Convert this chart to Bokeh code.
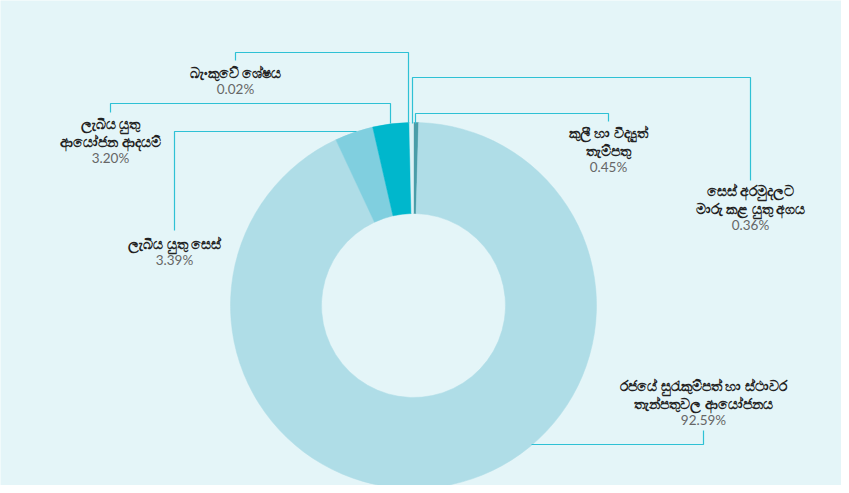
import math
from bokeh.plotting import figure
from bokeh.models import Range1d, ColumnDataSource
from bokeh.core.properties import value
from bokeh.embed import file_html
from bokeh.resources import INLINE

# ---- data (clockwise from 12 o'clock) ----
categories = [
    "කුලී හා විද්‍යුත් තැම්පතු",
    "රජයේ සුරැකුම්පත් හා ස්ථාවර තැන්පතුවල ආයෝජනය",
    "ලැබිය යුතු සෙස්",
    "ලැබිය යුතු ආයෝජන ආදයම්",
    "බැංකුවේ ශේෂය",
    "සෙස් අරමුදලට මාරු කළ යුතු අගය",
]
shares = [0.45, 92.59, 3.39, 3.20, 0.02, 0.36]
pct_labels = ["0.45%", "92.59%", "3.39%", "3.20%", "0.02%", "0.36%"]
label_lines = [
    ["කුලී හා විද්‍යුත්", "තැම්පතු"],
    ["රජයේ සුරැකුම්පත් හා ස්ථාවර", "තැන්පතුවල ආයෝජනය"],
    ["ලැබිය යුතු සෙස්"],
    ["ලැබිය යුතු", "ආයෝජන ආදයම්"],
    ["බැංකුවේ ශේෂය"],
    ["සෙස් අරමුදලට", "මාරු කළ යුතු අගය"],
]

# ---- styling / layout ----
colors = ["#4a9da8", "#afdde7", "#80cfdf", "#00b7cc", "#00b7cc", "#dcf1f5"]
BG = "#e4f5f8"
LEAD = "#2ec1d5"
CX, CY = 413, 305
R_OUT, R_IN = 183, 92

# label anchor (x, y of first line) per slice
label_pos = [(608, 132), (703, 385), (174, 243), (110, 123), (235, 72), (750, 190)]
# leader polylines per slice
leaders = [
    ([415, 415, 608, 608], [123, 113, 113, 121]),
    ([531, 703, 703], [444, 444, 430]),
    ([356, 174, 174], [131, 131, 230]),
    ([390, 390, 110, 110], [123, 103, 103, 112]),
    ([408, 408, 235, 235], [123, 52, 52, 60]),
    ([412, 412, 750, 750], [123, 77, 77, 180]),
]

W, H = 841, 485
p = figure(width=W, height=H, output_backend="svg", toolbar_location=None,
           x_range=Range1d(0, W), y_range=Range1d(H, 0),
           min_border=0, background_fill_color=BG, border_fill_color=BG,
           outline_line_color=None)
p.axis.visible = False
p.grid.visible = False

total = sum(shares)
starts, ends = [], []
cum = 0.0
for s in shares:
    a0 = math.pi / 2 - 2 * math.pi * cum / total
    cum += s
    a1 = math.pi / 2 - 2 * math.pi * cum / total
    starts.append(a0)
    ends.append(a1)

src = ColumnDataSource(dict(start=starts, end=ends, color=colors,
                            x=[CX] * len(shares), y=[CY] * len(shares)))
p.annular_wedge(x="x", y="y", inner_radius=R_IN, outer_radius=R_OUT,
                start_angle="start", end_angle="end", direction="clock",
                fill_color="color", line_color="color", line_width=0.5,
                source=src)

for xs, ys in leaders:
    p.line(xs, ys, line_color=LEAD, line_width=1.2)

LH = 17.5
for (lx, ly), lines, pct in zip(label_pos, label_lines, pct_labels):
    ys = [ly + i * LH for i in range(len(lines))]
    p.text(x=[lx] * len(lines), y=ys, text=lines, text_align="center",
           text_baseline="middle", text_font=value("Noto Sans"),
           text_font_size="14px", text_color="#222222", text_font_style="bold")
    p.text(x=[lx], y=[ly + len(lines) * LH - 1], text=[pct], text_align="center",
           text_baseline="middle", text_font=value("Lato"),
           text_font_size="13.5px", text_color="#666666")

open("out.html", "w").write(file_html(p, INLINE))
